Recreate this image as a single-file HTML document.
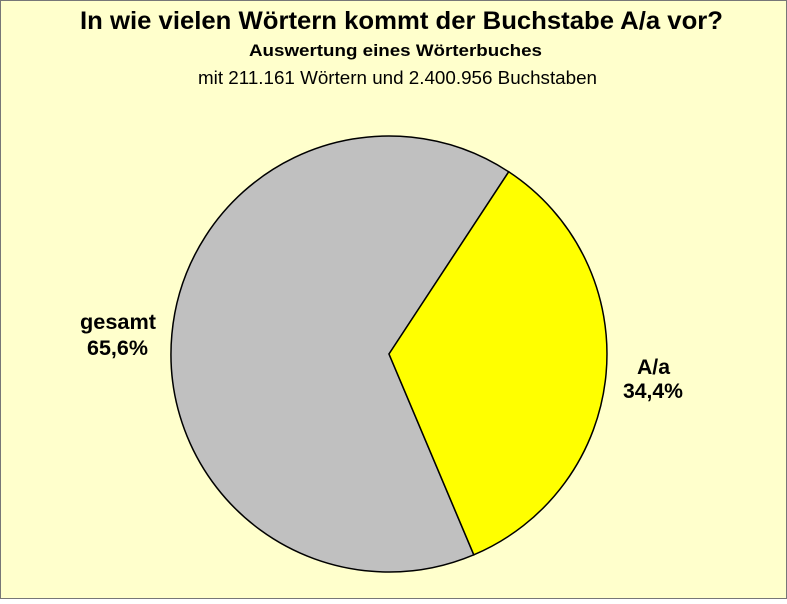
<!DOCTYPE html>
<html><head><meta charset="utf-8"><style>
html,body{margin:0;padding:0;}
body{width:787px;height:599px;overflow:hidden;}
</style></head><body>
<svg width="787" height="599" xmlns="http://www.w3.org/2000/svg" font-family="Liberation Sans, sans-serif">
<rect x="0.5" y="0.5" width="786" height="598" fill="#FFFFCC" stroke="#777777"/>
<text x="80" y="29" font-size="25" font-weight="bold" textLength="643" lengthAdjust="spacingAndGlyphs">In wie vielen Wörtern kommt der Buchstabe A/a vor?</text>
<text x="249" y="56" font-size="17" font-weight="bold" textLength="293" lengthAdjust="spacingAndGlyphs">Auswertung eines Wörterbuches</text>
<text x="198" y="84" font-size="18" textLength="399" lengthAdjust="spacingAndGlyphs">mit 211.161 Wörtern und 2.400.956 Buchstaben</text>
<path d="M389,354 L508.7,171.8 A218,218 0 1,0 473.8,554.8 Z" fill="#C0C0C0" stroke="#000" stroke-width="1.5"/>
<path d="M389,354 L508.7,171.8 A218,218 0 0,1 473.8,554.8 Z" fill="#FFFF00" stroke="#000" stroke-width="1.5"/>
<text x="80" y="329" font-size="21" font-weight="bold" textLength="76" lengthAdjust="spacingAndGlyphs">gesamt</text>
<text x="87" y="355" font-size="21" font-weight="bold" textLength="61" lengthAdjust="spacingAndGlyphs">65,6%</text>
<text x="637" y="374" font-size="21" font-weight="bold" textLength="33" lengthAdjust="spacingAndGlyphs">A/a</text>
<text x="623" y="398" font-size="21" font-weight="bold" textLength="60" lengthAdjust="spacingAndGlyphs">34,4%</text>
</svg>
</body></html>
